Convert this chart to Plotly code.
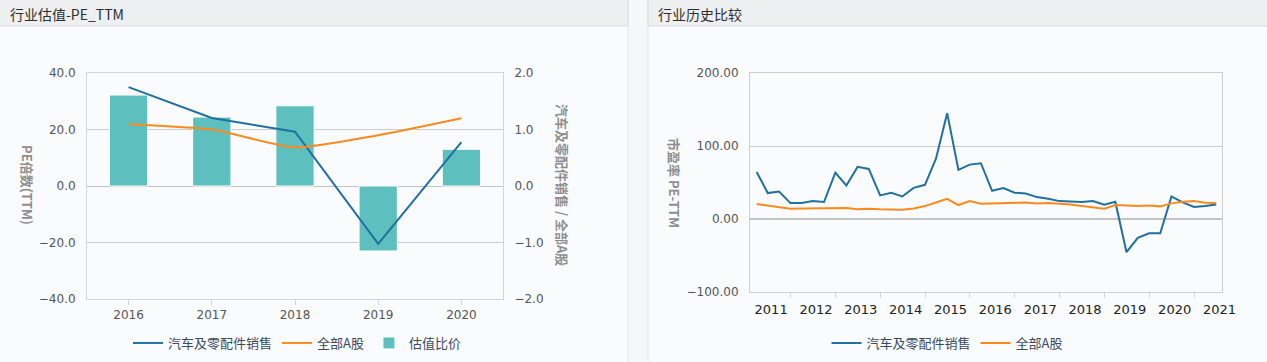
import plotly.graph_objects as go
import pandas as pd

# ---------------- data ----------------
years = ["2016", "2017", "2018", "2019", "2020"]
auto_pe = [35.0, 24.1, 19.2, -20.5, 15.5]
all_a_pe = [21.9, 20.0, 13.7, 18.0, 24.0]
ratio = [1.61, 1.22, 1.42, -1.15, 0.65]

quarters = pd.date_range("2011-03-31", periods=42, freq="QE").strftime("%Y-%m-%d").tolist()
hist_auto = [64.5, 35.5, 37.7, 21.8, 21.8, 24.5, 23.2, 63.6, 45.9, 71.4,
             68.6, 32.3, 35.9, 30.9, 42.7, 46.8, 82.7, 145.0, 67.3, 74.5,
             76.4, 38.6, 42.3, 35.9, 35.0, 30.0, 27.7, 24.5, 24.1, 23.2,
             24.5, 19.5, 23.6, -45.5, -25.9, -19.5, -19.5, 30.9, 22.7, 16.4,
             17.7, 20.0]
hist_all = [20.5, 18.2, 15.5, 14.1, 14.5, 14.5, 14.1, 15.0, 15.0, 13.2,
            14.1, 13.2, 12.7, 12.7, 14.5, 17.7, 22.7, 27.7, 19.1, 24.5,
            20.9, 21.4, 22.3, 22.3, 22.7, 21.4, 21.8, 20.9, 20.0, 17.7,
            16.4, 14.1, 19.1, 18.2, 17.7, 18.6, 17.3, 21.4, 23.6, 24.5,
            22.3, 21.8]

name_auto = "汽车及零配件销售"
name_all = "全部A股"
name_ratio = "估值比价"

BLUE = "#21709f"
ORANGE = "#f98b1e"
TEAL = "#5ebfbf"
FONT = "DejaVu Sans, Noto Sans CJK SC"
CJK = "Noto Sans CJK SC, DejaVu Sans"

W, H = 1267, 362
def px(x):
    return x / W
def py(y):
    return 1 - y / H

fig = go.Figure()

# left chart: bars on base axis (y, right side), lines on overlaying axis (y2, left side)
fig.add_trace(go.Scatter(x=years, y=auto_pe, name=name_auto, mode="lines",
                         line=dict(color=BLUE, width=2), xaxis="x", yaxis="y2",
                         legend="legend"))
fig.add_trace(go.Scatter(x=years, y=all_a_pe, name=name_all, mode="lines",
                         line=dict(color=ORANGE, width=2, shape="spline", smoothing=0.6),
                         xaxis="x", yaxis="y2", legend="legend"))
fig.add_trace(go.Bar(x=years, y=ratio, name=name_ratio, width=0.46,
                     marker=dict(color=TEAL, line=dict(color="white", width=1)),
                     xaxis="x", yaxis="y", legend="legend"))

# right chart
fig.add_trace(go.Scatter(x=quarters, y=hist_auto, name=name_auto, mode="lines",
                         line=dict(color=BLUE, width=2), xaxis="x3", yaxis="y3",
                         legend="legend2"))
fig.add_trace(go.Scatter(x=quarters, y=hist_all, name=name_all, mode="lines",
                         line=dict(color=ORANGE, width=2), xaxis="x3", yaxis="y3",
                         legend="legend2"))

axis_line = "#cfd6e2"
grid = "#cccccc"

# panels
shapes = [
    dict(type="rect", xref="paper", yref="paper", x0=px(-2), x1=px(628), y0=py(364), y1=py(-2),
         fillcolor="#fafbfd", line=dict(color="#e2e4e8", width=1), layer="below"),
    dict(type="rect", xref="paper", yref="paper", x0=px(-2), x1=px(628), y0=py(26), y1=py(-2),
         fillcolor="#eeeff1", line=dict(color="#d9dbde", width=1), layer="below"),
    dict(type="rect", xref="paper", yref="paper", x0=px(648), x1=px(1270), y0=py(364), y1=py(-2),
         fillcolor="#fafbfd", line=dict(color="#e2e4e8", width=1), layer="below"),
    dict(type="rect", xref="paper", yref="paper", x0=px(648), x1=px(1270), y0=py(26), y1=py(-2),
         fillcolor="#eeeff1", line=dict(color="#d9dbde", width=1), layer="below"),
]

title_font = dict(family=CJK, size=13, color="#8e8e8e")
annotations = [
    dict(text="行业估值-PE_TTM", xref="paper", yref="paper", x=px(8), y=py(14),
         xanchor="left", yanchor="middle", showarrow=False,
         font=dict(family=CJK, size=14, color="#2e2e2e")),
    dict(text="行业历史比较", xref="paper", yref="paper", x=px(656), y=py(14),
         xanchor="left", yanchor="middle", showarrow=False,
         font=dict(family=CJK, size=14, color="#2e2e2e")),
    dict(text="<b>PE倍数(TTM)</b>", xref="paper", yref="paper", x=px(28), y=py(185),
         textangle=90, showarrow=False, xanchor="center", yanchor="middle", font=title_font),
    dict(text="<b>汽车及零配件销售 / 全部A股</b>", xref="paper", yref="paper", x=px(563), y=py(185),
         textangle=90, showarrow=False, xanchor="center", yanchor="middle", font=title_font),
    dict(text="<b>市盈率 PE-TTM</b>", xref="paper", yref="paper", x=px(675), y=py(183),
         textangle=90, showarrow=False, xanchor="center", yanchor="middle", font=title_font),
]

tickfont = dict(family=FONT, size=12, color="#555555")

fig.update_layout(
    width=W, height=H, autosize=False,
    margin=dict(l=0, r=0, t=0, b=0, autoexpand=False),
    paper_bgcolor="#f6f7f9",
    plot_bgcolor="rgba(0,0,0,0)",
    font=dict(family=FONT),
    shapes=shapes,
    annotations=annotations,
    xaxis=dict(domain=[px(87), px(503)], type="category", anchor="y", automargin=False,
               showline=True, linecolor=axis_line, mirror=True,
               ticks="outside", ticklen=5, tickcolor=axis_line,
               tickfont=tickfont, showgrid=False),
    yaxis=dict(domain=[py(299), py(73)], anchor="x", side="right", range=[-2, 2], dtick=1,
               automargin=False,
               tickformat=".1f", showgrid=True, gridcolor=grid, zeroline=True,
               zerolinecolor="#c4c4c4", zerolinewidth=1, showline=True, linecolor=axis_line,
               ticks="", ticklabelstandoff=8, tickfont=tickfont),
    yaxis2=dict(overlaying="y", side="left", anchor="x", range=[-40, 40], dtick=20,
                automargin=False,
                tickformat=".1f", showgrid=False, zeroline=False, showline=True,
                linecolor=axis_line, ticks="", ticklabelstandoff=8, tickfont=tickfont),
    xaxis3=dict(domain=[px(750), px(1222)], type="date", anchor="y3", automargin=False,
                range=["2011-02-05", "2021-08-16"], dtick="M12", tick0="2011-01-01",
                tickformat="%Y", ticklabelmode="period", ticklabelshift=3,
                showline=True, linecolor="#cfcfcf", mirror=True,
                ticks="outside", ticklen=5, tickcolor=axis_line, showgrid=False,
                tickfont=dict(family=FONT, size=13, color="#222222")),
    yaxis3=dict(domain=[py(292), py(73)], anchor="x3", range=[-100, 200], dtick=100,
                automargin=False,
                tickformat=".2f", showgrid=True, gridcolor=grid, zeroline=True,
                zerolinecolor="#c4c4c4", zerolinewidth=1.5, showline=True, linecolor="#cfcfcf",
                mirror=True, ticks="", ticklabelstandoff=8, tickfont=tickfont),
    legend=dict(orientation="h", x=px(297), y=py(343), xanchor="center", yanchor="middle",
                bgcolor="rgba(0,0,0,0)", font=dict(family=CJK, size=13, color="#3a4a60"),
                traceorder="normal", itemwidth=30),
    legend2=dict(orientation="h", x=px(947), y=py(343), xanchor="center", yanchor="middle",
                 bgcolor="rgba(0,0,0,0)", font=dict(family=CJK, size=13, color="#3a4a60"),
                 traceorder="normal", itemwidth=30),
)

post = ("document.body.style.margin='0';document.body.style.padding='0';"
        "document.documentElement.style.overflow='hidden';")

fig.write_html("out.html", config={"displayModeBar": False}, post_script=post)
